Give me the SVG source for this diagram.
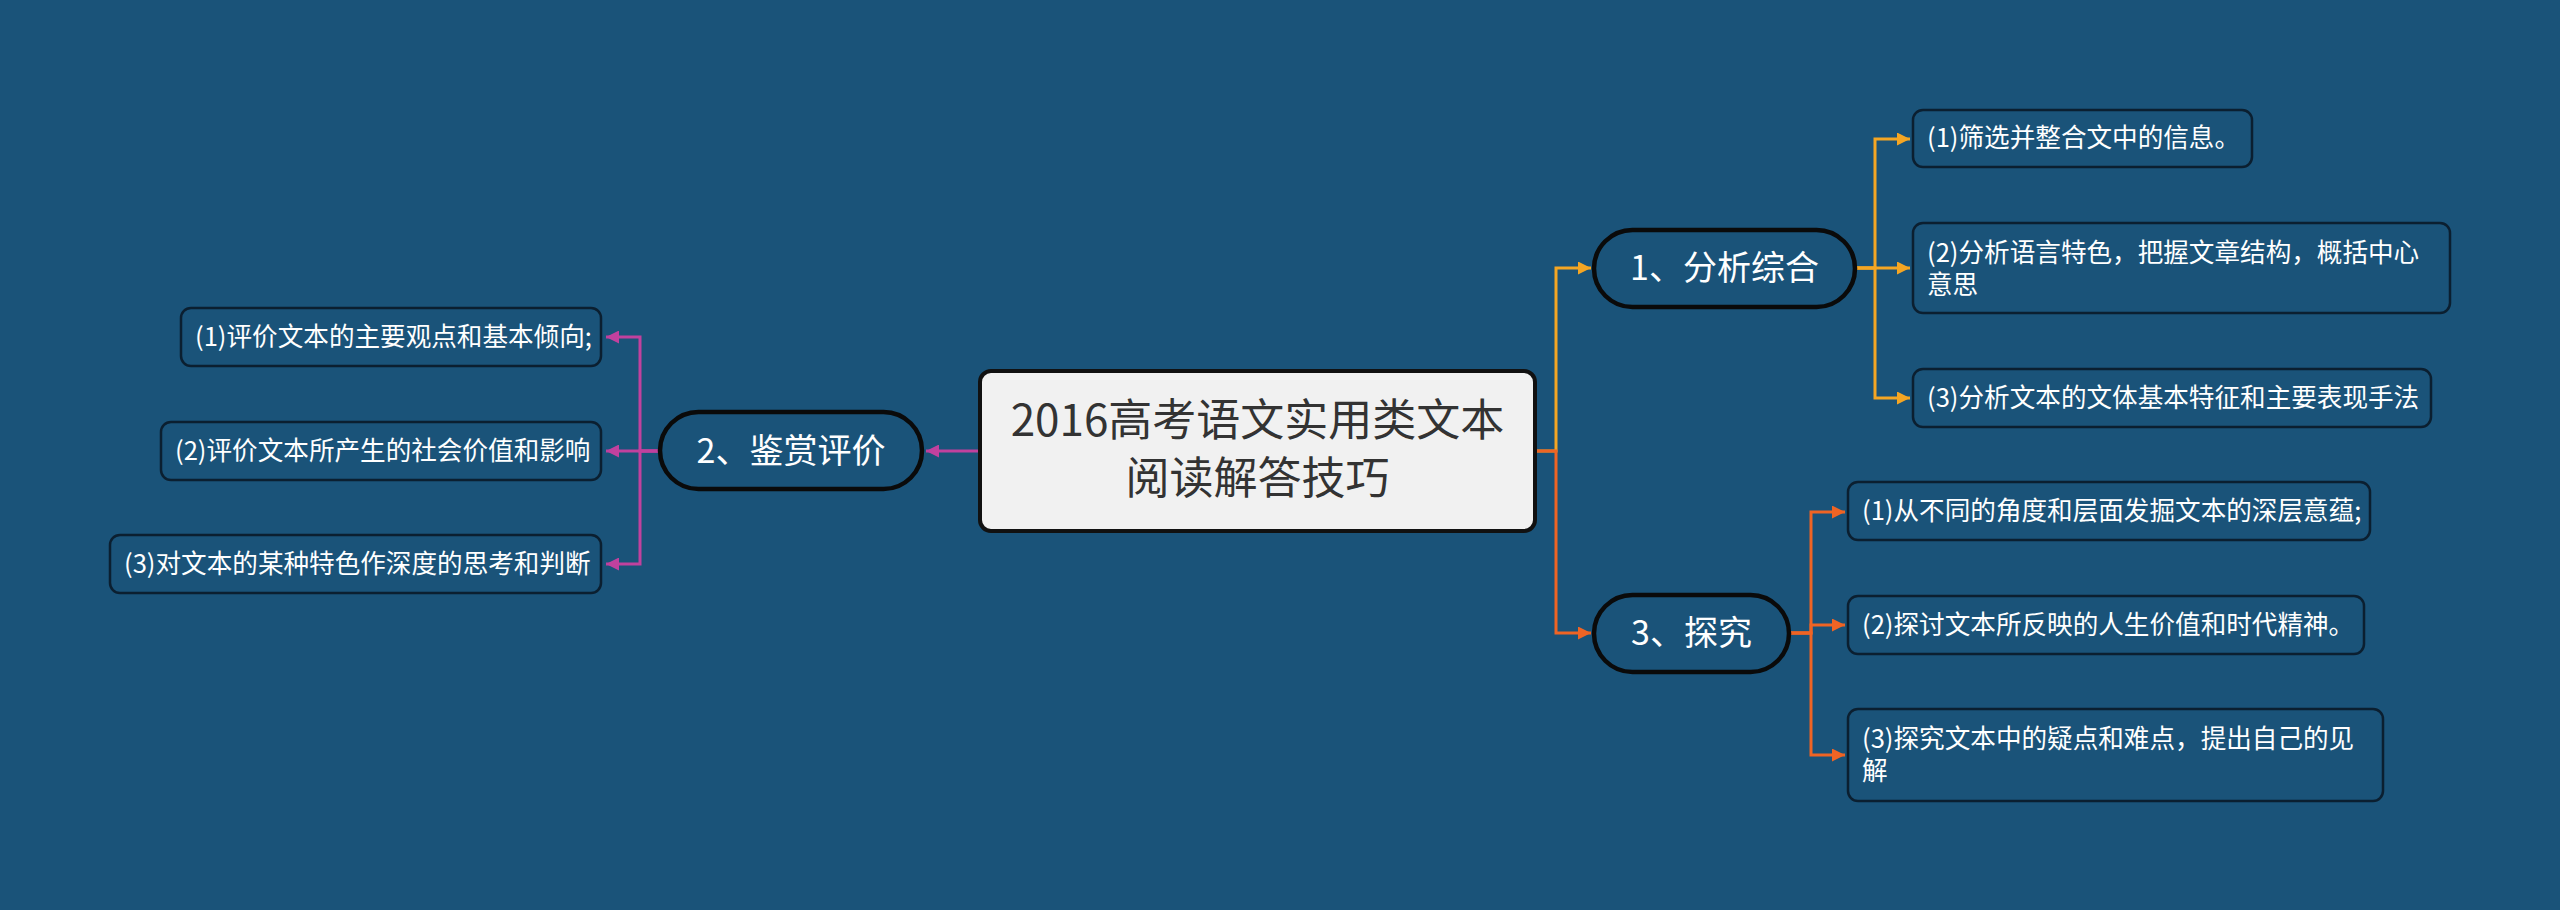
<svg xmlns="http://www.w3.org/2000/svg" width="2560" height="910" viewBox="0 0 2560 910">
<defs>
<style>
.bg{fill:#1a5379}
.central rect{fill:#f1f1f1;stroke:#111;stroke-width:4}
.central text{fill:#333;font-size:44px;text-anchor:middle}
.pill rect{fill:#1a5379;stroke:#0a0a0a;stroke-width:4.5}
.pill text{fill:#fff;font-size:34px;text-anchor:middle}
.leaf rect{fill:#1a5379;stroke:#0b1f30;stroke-width:2.5}
.leaf text{fill:#fff;font-size:25.6px}
text{font-family:"Noto Sans CJK SC","Noto Sans",sans-serif}
.c{fill:none;stroke-width:3}
.y{stroke:#f5a623}
.o{stroke:#ef6424}
.m{stroke:#c1419e}
</style>
<marker id="ay" markerUnits="userSpaceOnUse" markerWidth="14" markerHeight="13" refX="13" refY="6.5" orient="auto"><path d="M0,0 L13,6.5 L0,13 z" fill="#f5a623"/></marker>
<marker id="ao" markerUnits="userSpaceOnUse" markerWidth="14" markerHeight="13" refX="13" refY="6.5" orient="auto"><path d="M0,0 L13,6.5 L0,13 z" fill="#ef6424"/></marker>
<marker id="am" markerUnits="userSpaceOnUse" markerWidth="14" markerHeight="13" refX="13" refY="6.5" orient="auto"><path d="M0,0 L13,6.5 L0,13 z" fill="#c1419e"/></marker>
</defs>
<rect class="bg" x="0" y="0" width="2560" height="910"/>
<g id="connectors">
<path class="c y" d="M1535,451 H1556 V268 H1591" marker-end="url(#ay)"/>
<path class="c o" d="M1535,451 H1556 V633 H1591" marker-end="url(#ao)"/>
<path class="c y" d="M1855,268 H1875 V139 H1910" marker-end="url(#ay)"/>
<path class="c y" d="M1855,268 H1910" marker-end="url(#ay)"/>
<path class="c y" d="M1855,268 H1875 V398 H1910" marker-end="url(#ay)"/>
<path class="c o" d="M1789,633 H1811 V512 H1845" marker-end="url(#ao)"/>
<path class="c o" d="M1789,633 H1811 V625 H1845" marker-end="url(#ao)"/>
<path class="c o" d="M1789,633 H1811 V755 H1845" marker-end="url(#ao)"/>
<path class="c m" d="M980,451 H926" marker-end="url(#am)"/>
<path class="c m" d="M660,451 H640 V337 H606" marker-end="url(#am)"/>
<path class="c m" d="M660,451 H606" marker-end="url(#am)"/>
<path class="c m" d="M660,451 H640 V564 H606" marker-end="url(#am)"/>
</g>
<g id="central" class="central">
<rect x="980" y="371" width="555" height="160" rx="11"/>
<text x="1257.5" y="436">2016高考语文实用类文本</text>
<text x="1257.5" y="494">阅读解答技巧</text>
</g>
<g id="node1" class="pill">
<rect x="1594" y="230" width="261" height="77" rx="38.5"/>
<text x="1724.5" y="280">1、分析综合</text>
</g>
<g id="node2" class="pill">
<rect x="660" y="412" width="262" height="77" rx="38.5"/>
<text x="791" y="463">2、鉴赏评价</text>
</g>
<g id="node3" class="pill">
<rect x="1594" y="595" width="195" height="77" rx="38.5"/>
<text x="1691.5" y="645">3、探究</text>
</g>
<g id="n1a" class="leaf">
<rect x="1913" y="110" width="339" height="57" rx="10"/>
<text x="1927" y="147">(1)筛选并整合文中的信息。</text>
</g>
<g id="n1b" class="leaf">
<rect x="1913" y="223" width="537" height="90" rx="10"/>
<text x="1927" y="262">(2)分析语言特色，把握文章结构，概括中心</text>
<text x="1927" y="294">意思</text>
</g>
<g id="n1c" class="leaf">
<rect x="1913" y="369" width="518" height="58" rx="10"/>
<text x="1927" y="407">(3)分析文本的文体基本特征和主要表现手法</text>
</g>
<g id="n3a" class="leaf">
<rect x="1848" y="482" width="522" height="58" rx="10"/>
<text x="1862" y="520">(1)从不同的角度和层面发掘文本的深层意蕴;</text>
</g>
<g id="n3b" class="leaf">
<rect x="1848" y="596" width="516" height="58" rx="10"/>
<text x="1862" y="634">(2)探讨文本所反映的人生价值和时代精神。</text>
</g>
<g id="n3c" class="leaf">
<rect x="1848" y="709" width="535" height="92" rx="10"/>
<text x="1862" y="748">(3)探究文本中的疑点和难点，提出自己的见</text>
<text x="1862" y="780">解</text>
</g>
<g id="n2a" class="leaf">
<rect x="181" y="308" width="420" height="58" rx="10"/>
<text x="195" y="346">(1)评价文本的主要观点和基本倾向;</text>
</g>
<g id="n2b" class="leaf">
<rect x="161" y="422" width="440" height="58" rx="10"/>
<text x="175" y="460">(2)评价文本所产生的社会价值和影响</text>
</g>
<g id="n2c" class="leaf">
<rect x="110" y="535" width="491" height="58" rx="10"/>
<text x="124" y="573">(3)对文本的某种特色作深度的思考和判断</text>
</g>
</svg>
